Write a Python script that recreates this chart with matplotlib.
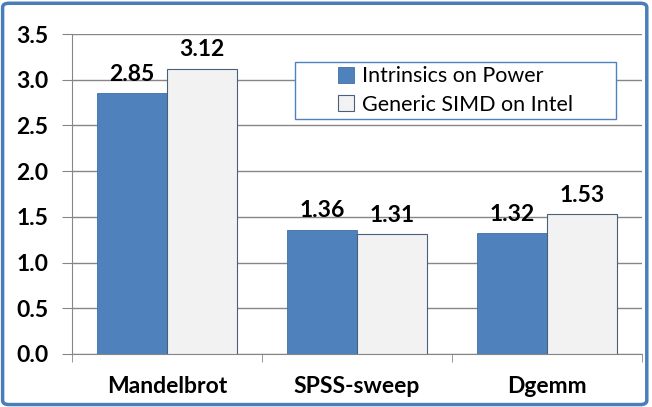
import matplotlib.pyplot as plt
import numpy as np
from matplotlib.patches import FancyBboxPatch, Rectangle

categories = ["Mandelbrot", "SPSS-sweep", "Dgemm"]
series_names = ["Intrinsics on Power", "Generic SIMD on Intel"]
power = [2.85, 1.36, 1.32]
intel = [3.12, 1.31, 1.53]
yticks = [0.0, 0.5, 1.0, 1.5, 2.0, 2.5, 3.0, 3.5]

plt.rcParams["font.family"] = ["Lato", "DejaVu Sans"]

fig = plt.figure(figsize=(6.52, 4.07), dpi=100)
ax = fig.add_axes([72 / 652, 1 - 354 / 407, 570 / 652, 320 / 407])

x = np.arange(len(categories))
w = 0.366
b1 = ax.bar(x - w / 2, power, w, color="#4F81BD", edgecolor="#3F6FA8", linewidth=0.6, zorder=3)
b2 = ax.bar(x + w / 2, intel, w, color="#F2F2F2", edgecolor="#4A5F7A", linewidth=0.8, zorder=3)

# value labels above each bar
for bars, vals in ((b1, power), (b2, intel)):
    for bar, v in zip(bars, vals):
        ax.annotate(f"{v:.2f}", (bar.get_x() + bar.get_width() / 2, v),
                    xytext=(0, 6), textcoords="offset points",
                    ha="center", va="bottom", fontsize=16.5, fontweight="bold")

ax.set_xlim(-0.5, len(categories) - 0.5)
ax.set_ylim(0, 3.5)
ax.set_yticks(yticks)
ax.set_yticklabels([f"{t:.1f}" for t in yticks], fontsize=16.5, fontweight="bold")
ax.set_xticks(x)
ax.set_xticklabels(categories, fontsize=16.5, fontweight="bold")
ax.tick_params(axis="x", length=0, pad=16)
ax.set_xticks(np.arange(-0.5, len(categories)), minor=True)
ax.tick_params(axis="x", which="minor", length=6, color="#868686")
ax.tick_params(axis="y", length=7, color="#868686", pad=10)

ax.grid(axis="y", color="#868686", linewidth=1, zorder=0)
for s in ("top", "right"):
    ax.spines[s].set_visible(False)
ax.spines["left"].set_color("#868686")
ax.spines["bottom"].set_color("#868686")

# legend box is wider than its content, so draw the frame separately
lx0, lx1, ly0, ly1 = 0.391, 0.954, 0.734, 0.9125
ax.add_patch(Rectangle((lx0, ly0), lx1 - lx0, ly1 - ly0, transform=ax.transAxes,
                       facecolor="white", edgecolor="#4F81BD", linewidth=1, zorder=5))
leg = ax.legend([b1, b2], series_names, loc="center",
                bbox_to_anchor=((lx0 + lx1) / 2, (ly0 + ly1) / 2),
                fontsize=15.5, frameon=False,
                handlelength=0.75, handleheight=0.75, handletextpad=0.35,
                borderpad=0, labelspacing=0.4, borderaxespad=0)
leg.set_zorder(6)

# outer rounded border
fig.patches.append(FancyBboxPatch((0.004, 0.006), 0.988, 0.986,
                                  boxstyle="round,pad=0,rounding_size=0.01",
                                  transform=fig.transFigure, fill=False,
                                  edgecolor="#4A7EBB", linewidth=2.5))

fig.savefig("out.png", dpi=100)
